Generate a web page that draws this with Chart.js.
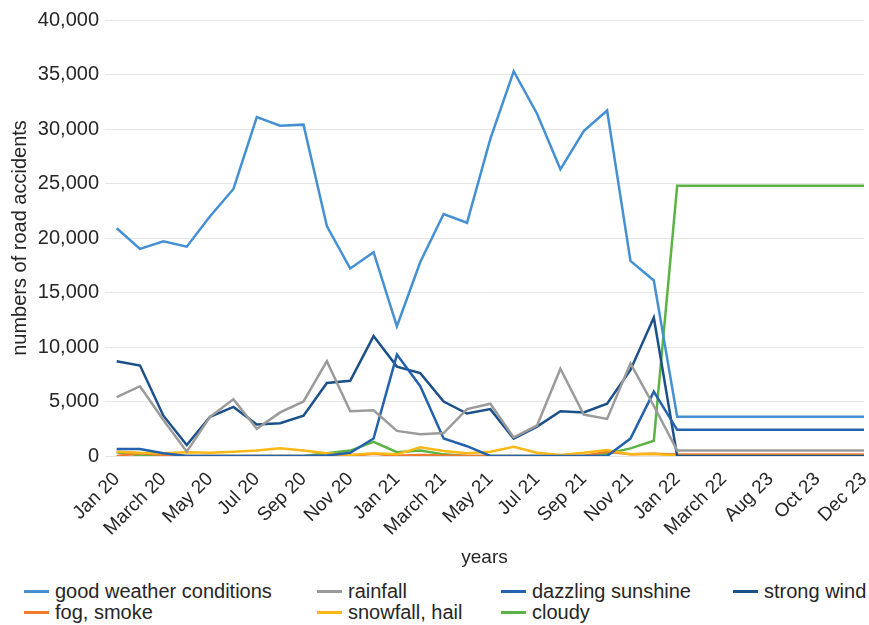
<!DOCTYPE html>
<html>
<head>
<meta charset="utf-8">
<script src="https://cdn.jsdelivr.net/npm/chart.js@4"></script>
<style>
  html, body { margin: 0; padding: 0; background: #fff; overflow: hidden; }
  #wrap { position: relative; width: 869px; height: 575px; }
  #legend { position: absolute; left: 0; top: 575px; width: 869px; height: 50px;
    font-family: "Liberation Sans", Arial, sans-serif; font-size: 20px; color: #262626; }
  .item { position: absolute; white-space: nowrap; line-height: 20px; }
  .item i { display: inline-block; width: 25px; height: 3px; vertical-align: middle; margin-right: 6px; position: relative; top: -1px; }
</style>
</head>
<body>
<div id="wrap"><canvas id="c"></canvas></div>
<div id="legend"></div>
<script>
// categories (months); only every second one is labelled
const MONTHS = [
  'Jan 20', 'Feb 20', 'March 20', 'Apr 20', 'May 20', 'Jun 20', 'Jul 20', 'Aug 20',
  'Sep 20', 'Oct 20', 'Nov 20', 'Dec 20', 'Jan 21', 'Feb 21', 'March 21', 'Apr 21',
  'May 21', 'Jun 21', 'Jul 21', 'Aug 21', 'Sep 21', 'Oct 21', 'Nov 21', 'Dec 21',
  'Jan 22', 'Feb 22', 'March 22', 'Jul 23', 'Aug 23', 'Sep 23', 'Oct 23', 'Nov 23', 'Dec 23'
];

const goodWeather = [20900, 19000, 19700, 19200, 22000, 24500, 31100, 30300, 30400, 21100, 17200, 18700,
  11900, 17800, 22200, 21400, 29100, 35300, 31400, 26300, 29800, 31700, 17900, 16100,
  3600, 3600, 3600, 3600, 3600, 3600, 3600, 3600, 3600];
const rainfall = [5400, 6400, 3300, 400, 3600, 5200, 2500, 4000, 5000, 8700, 4100, 4200,
  2300, 2000, 2100, 4300, 4800, 1700, 2800, 8000, 3800, 3400, 8500, 4600,
  500, 500, 500, 500, 500, 500, 500, 500, 500];
const sunshine = [650, 650, 250, 0, 0, 0, 0, 0, 0, 50, 300, 1600,
  9300, 6400, 1600, 900, 0, 0, 0, 0, 0, 0, 1600, 5900,
  2400, 2400, 2400, 2400, 2400, 2400, 2400, 2400, 2400];
const strongWind = [8700, 8300, 3700, 1000, 3600, 4500, 2900, 3000, 3700, 6700, 6900, 11000,
  8200, 7600, 5000, 3900, 4300, 1600, 2700, 4100, 4000, 4800, 7900, 12700,
  0, 0, 0, 0, 0, 0, 0, 0, 0];
const fogSmoke = [0, 250, 100, 0, 0, 0, 0, 0, 0, 0, 0, 200,
  30, 100, 50, 0, 0, 0, 0, 0, 0, 400, 150, 200,
  130, 130, 130, 130, 130, 130, 130, 130, 130];
const snowHail = [400, 300, 250, 350, 300, 400, 500, 700, 500, 250, 100, 250,
  150, 800, 450, 250, 400, 850, 300, 100, 300, 550, 150, 200,
  30, 30, 30, 30, 30, 30, 30, 30, 30];
const cloudy = [350, 50, 0, 0, 0, 0, 0, 0, 0, 250, 500, 1300,
  350, 500, 150, 0, 0, 0, 0, 0, 0, 200, 700, 1400,
  24800, 24800, 24800, 24800, 24800, 24800, 24800, 24800, 24800];

const SERIES = [
  {name: 'good weather conditions', data: goodWeather, color: '#4490d3', col: 0, row: 0},
  {name: 'rainfall', data: rainfall, color: '#9b9b9b', col: 1, row: 0},
  {name: 'dazzling sunshine', data: sunshine, color: '#2462ae', col: 2, row: 0},
  {name: 'strong wind', data: strongWind, color: '#1c5088', col: 3, row: 0},
  {name: 'fog, smoke', data: fogSmoke, color: '#f07b2e', col: 0, row: 1},
  {name: 'snowfall, hail', data: snowHail, color: '#fdb818', col: 1, row: 1},
  {name: 'cloudy', data: cloudy, color: '#5cb345', col: 2, row: 1}
];

// legend columns like the original (grid, not centred rows)
const COL_X = [24, 317, 501, 733];
const ROW_Y = [6, 27];
const legend = document.getElementById('legend');
SERIES.forEach(s => {
  const d = document.createElement('div');
  d.className = 'item';
  d.style.left = COL_X[s.col] + 'px';
  d.style.top = ROW_Y[s.row] + 'px';
  d.innerHTML = `<i style="background:${s.color}"></i>${s.name}`;
  legend.appendChild(d);
});

// draw order: lower number = drawn on top
const drawOrder = {'good weather conditions': 1, 'rainfall': 2, 'dazzling sunshine': 3, 'strong wind': 4,
  'fog, smoke': 6, 'snowfall, hail': 5, 'cloudy': 7};

const FONT = "'Liberation Sans', Arial, sans-serif";
Chart.defaults.font.family = FONT;
Chart.defaults.color = '#262626';

new Chart(document.getElementById('c'), {
  type: 'line',
  data: {
    datasets: SERIES.map(s => ({
      label: s.name,
      data: s.data.map((v, i) => ({x: i, y: v})),
      borderColor: s.color,
      backgroundColor: s.color,
      borderWidth: 2.5,
      pointRadius: 0,
      tension: 0,
      order: drawOrder[s.name]
    }))
  },
  options: {
    responsive: true,
    maintainAspectRatio: false,
    animation: false,
    layout: {padding: {left: 8, right: 5, top: 20, bottom: 4}},
    plugins: {
      legend: {display: false},
      tooltip: {enabled: false}
    },
    scales: {
      x: {
        type: 'linear',
        min: -0.5,
        max: MONTHS.length - 1,
        grid: {display: false},
        border: {display: false},
        afterBuildTicks: sc => {
          sc.ticks = MONTHS.map((m, i) => ({value: i})).filter(t => t.value % 2 === 0);
        },
        afterFit: sc => {
          sc.height = 115;
          sc.paddingRight = 0;
          sc.paddingLeft = 0;
        },
        ticks: {
          autoSkip: false,
          maxRotation: 45,
          minRotation: 45,
          padding: 4,
          font: {size: 19},
          callback: v => MONTHS[v]
        },
        title: {display: true, text: 'years', font: {size: 19}, padding: {top: 4, bottom: 2}}
      },
      y: {
        min: 0,
        max: 40000,
        grid: {color: '#e6e6e6', lineWidth: 1, drawTicks: false},
        border: {display: false},
        afterFit: sc => { sc.width = 97; },
        ticks: {
          stepSize: 5000,
          padding: 6,
          font: {size: 20},
          callback: v => v.toLocaleString('en-US')
        },
        title: {display: true, text: 'numbers of road accidents', font: {size: 20}, padding: {top: 0, bottom: 4}}
      }
    }
  }
});
</script>
</body>
</html>
